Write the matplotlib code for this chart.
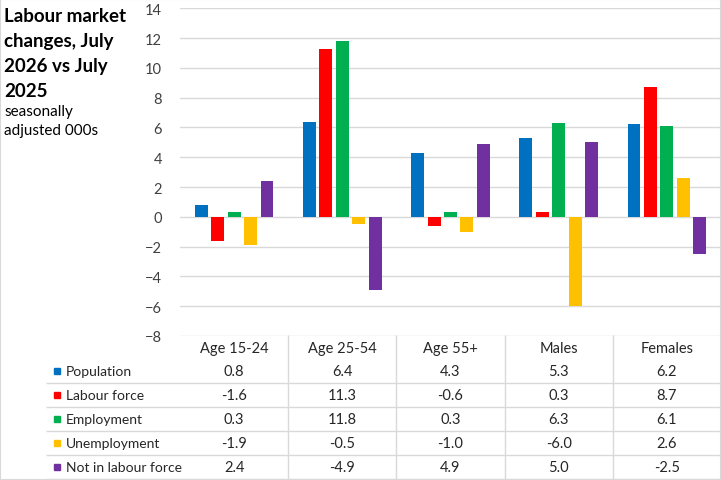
import matplotlib
matplotlib.use("Agg")
import matplotlib.pyplot as plt
import numpy as np
from matplotlib.patches import Rectangle

categories = ["Age 15-24", "Age 25-54", "Age 55+", "Males", "Females"]
series_names = ["Population", "Labour force", "Employment", "Unemployment", "Not in labour force"]
population = [0.8, 6.4, 4.3, 5.3, 6.2]
labour_force = [-1.6, 11.3, -0.6, 0.3, 8.7]
employment = [0.3, 11.8, 0.3, 6.3, 6.1]
unemployment = [-1.9, -0.5, -1.0, -6.0, 2.6]
not_in_lf = [2.4, -4.9, 4.9, 5.0, -2.5]
colors = ["#0070C0", "#FF0000", "#00B050", "#FFC000", "#7030A0"]

series = [population, labour_force, employment, unemployment, not_in_lf]

plt.rcParams["font.family"] = ["Lato", "DejaVu Sans"]

W, H = 721, 481
fig = plt.figure(figsize=(W / 100, H / 100), dpi=100)
grid_col = "#D9D9D9"

# chart area border
fig.patches.append(Rectangle((0, 0), 1, 1, transform=fig.transFigure, fill=False,
                             edgecolor=grid_col, linewidth=1.5))

# main plot area
ax = fig.add_axes([180 / W, 1 - 337 / H, 541 / W, (337 - 9.3) / H])
ax.set_xlim(-0.5, 4.5)
ax.set_ylim(-8, 14)
ax.set_yticks(np.arange(-8, 15, 2))
ax.yaxis.grid(True, color=grid_col, linewidth=1)
ax.set_axisbelow(True)
for s in ax.spines.values():
    s.set_visible(False)
ax.tick_params(axis="y", length=0, pad=13, labelsize=10.5, labelcolor="#404040")
ax.set_xticks([])

x = np.arange(len(categories))
step = 0.152
for j, (vals, col) in enumerate(zip(series, colors)):
    ax.bar(x + (j - 2) * step, vals, width=0.12, color=col, zorder=3)

# data table below
tax = fig.add_axes([46 / W, 1 / H, (721 - 46) / W, 144 / H])
cat_w = 541 / 5
left = -0.5 - 134 / cat_w
tax.set_xlim(left, 4.5)
tax.set_ylim(6, 0)
tax.axis("off")

tax.hlines(np.arange(2, 7), left, 4.5, color=grid_col, linewidth=1, clip_on=False)
tax.vlines(x[:-1] + 0.5, 0, 6, color=grid_col, linewidth=1)

for i, cat in enumerate(categories):
    tax.text(i, 0.55, cat, ha="center", va="center", fontsize=10.5, color="#262626")

for r, (name, vals, col) in enumerate(zip(series_names, series, colors)):
    yrow = r + 1.5
    tax.plot(left + 11 / cat_w, yrow, marker="s", markersize=5, color=col,
             linestyle="none", clip_on=False)
    tax.text(left + 20 / cat_w, yrow, name, ha="left", va="center", fontsize=10,
             color="#262626")
    for i, v in enumerate(vals):
        tax.text(i, yrow, f"{v:.1f}", ha="center", va="center", fontsize=10.5,
                 color="#262626")

# title block
fig.text(4 / W, 1 - 8 / H, "Labour market\nchanges, July\n2026 vs July\n2025",
         ha="left", va="top", fontsize=13.5, fontweight="bold", linespacing=1.58,
         color="#000000")
fig.text(4 / W, 1 - 105 / H, "seasonally\nadjusted 000s", ha="left", va="top",
         fontsize=11, linespacing=1.45, color="#000000")

fig.savefig("out.png", dpi=100)
plt.close(fig)
